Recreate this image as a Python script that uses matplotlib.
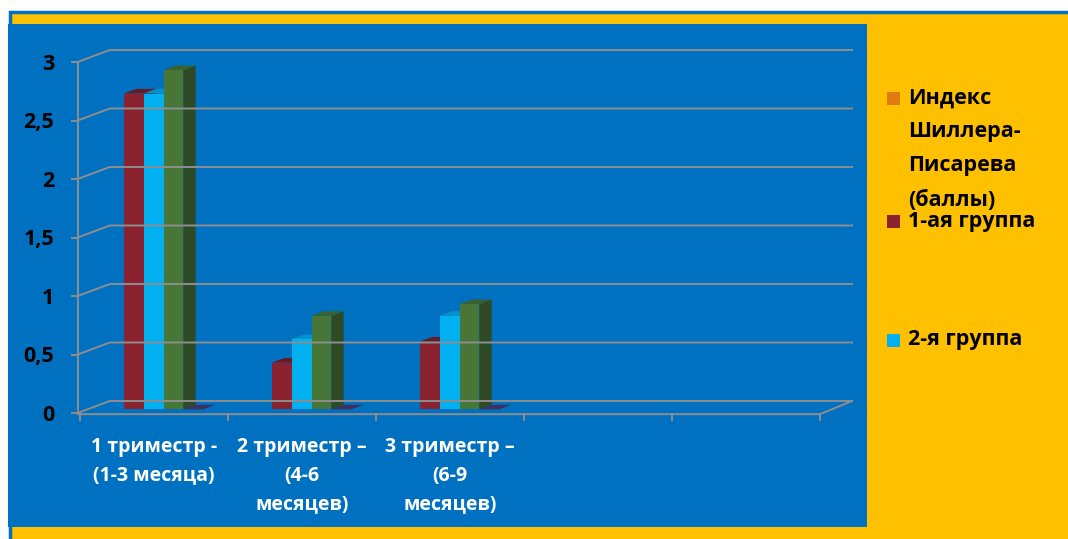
import matplotlib
matplotlib.use("Agg")
import matplotlib.pyplot as plt
from matplotlib.patches import Rectangle, Polygon

plt.rcParams['font.family'] = ['Open Sans', 'DejaVu Sans']

categories = ["1 триместр -\n(1-3 месяца)", "2 триместр –\n(4-6\nмесяцев)",
              "3 триместр –\n(6-9\nмесяцев)", "", ""]
group1 = [2.7, 0.4, 0.58]
group2 = [2.7, 0.6, 0.8]
group3 = [2.9, 0.8, 0.9]
group4 = [0, 0, 0]
yticks = [0, 0.5, 1, 1.5, 2, 2.5, 3]
ytick_labels = ["0", "0,5", "1", "1,5", "2", "2,5", "3"]
legend_labels = ["Индекс\nШиллера-\nПисарева\n(баллы)", "1-ая группа", "2-я группа"]
legend_colors = ["#E07B10", "#8B2230", "#00B0F0"]

# front / top / side colours of each series
series = [
    (group1, "#8B2230", "#6A1822", "#5E141E"),
    (group2, "#00B0F0", "#0093CC", "#0080B5"),
    (group3, "#477637", "#3A6130", "#2D4A25"),
    (group4, "#4A3B6E", "#3F3060", "#35284F"),
]

W, H = 1068, 539
fig = plt.figure(figsize=(W / 100, H / 100), dpi=100)
fig.patch.set_facecolor("white")

# chart area (yellow with blue frame) and blue plot panel, in figure pixels
bg = fig.add_axes([0, 0, 1, 1])
bg.set_xlim(0, W)
bg.set_ylim(H, 0)
bg.axis("off")
bg.add_patch(Rectangle((9.5, 11.5), W, H, facecolor="#FFC000", edgecolor="#0070C0", lw=2.5))
bg.add_patch(Rectangle((8, 24), 859, 503, facecolor="#0070C0", edgecolor="none"))

# chart axes mapped onto the blue panel
ax = fig.add_axes([8 / W, (H - 527) / H, 859 / W, 503 / H])
ax.set_xlim((8 - 80) / 148, (867 - 80) / 148)
ax.set_ylim((413 - 527) / 117, (413 - 24) / 117)
ax.axis("off")

ncat = len(categories)
DX, DY = 32 / 148, 12 / 117      # depth vector of the 3D box
xf = -0.015                      # front vertical axis
grid_c = "#8E8E8E"

for v in yticks:
    ax.plot([xf, xf + DX, ncat + DX], [v, v + DY, v + DY], color=grid_c, lw=1.4)
    ax.plot([xf - 0.04, xf], [v, v], color=grid_c, lw=1.4)
ax.plot([xf, xf], [0, yticks[-1]], color=grid_c, lw=1.4)
ax.plot([xf, ncat, ncat + DX], [-0.01, -0.01, DY], color=grid_c, lw=1.4)
for i in range(ncat + 1):
    ax.plot([i, i], [-0.01, -0.06], color=grid_c, lw=1.4)

for v, lab in zip(yticks, ytick_labels):
    ax.text(xf - 0.16, v - 0.02, lab, ha="right", va="center", fontsize=15.5,
            fontweight="bold", color="black")

# pseudo-3D clustered columns
d0, d1 = 0.3, 0.68
dd = d1 - d0
bw = 0.134
nser = len(series)
for i in range(len(group1)):
    c = i + 0.5
    for k, (vals, fc, tc, sc) in enumerate(series):
        x0 = c - nser / 2 * bw + k * bw + d0 * DX
        y0 = d0 * DY
        top = y0 + vals[i]
        if vals[i] > 0:
            ax.add_patch(Polygon([(x0 + bw, y0), (x0 + bw, top), (x0 + bw + dd * DX, top + dd * DY),
                                  (x0 + bw + dd * DX, y0 + dd * DY)], closed=True,
                                 facecolor=sc, edgecolor="none"))
        ax.add_patch(Polygon([(x0, top), (x0 + bw, top), (x0 + bw + dd * DX, top + dd * DY),
                              (x0 + dd * DX, top + dd * DY)], closed=True,
                             facecolor=tc, edgecolor="none"))
        if vals[i] > 0:
            ax.bar(x0, vals[i], bottom=y0, width=bw, align="edge", color=fc, linewidth=0)

# category labels
for i, lab in enumerate(categories):
    for j, line in enumerate(lab.split("\n") if lab else []):
        ax.text(i + 0.5, (413 - 447 - 28.5 * j) / 117, line, ha="center", va="center",
                fontsize=14, fontweight="bold", color="white")

# legend
legend_y = [98, 221, 340]
for lab, col, y in zip(legend_labels, legend_colors, legend_y):
    bg.add_patch(Rectangle((887, y - 6.5), 13, 13, facecolor=col, edgecolor="none"))
    for j, line in enumerate(lab.split("\n")):
        bg.text(908, y + 34 * j, line, ha="left", va="center", fontsize=15.5,
                fontweight="bold", color="black")

fig.savefig("out.png", dpi=100)
